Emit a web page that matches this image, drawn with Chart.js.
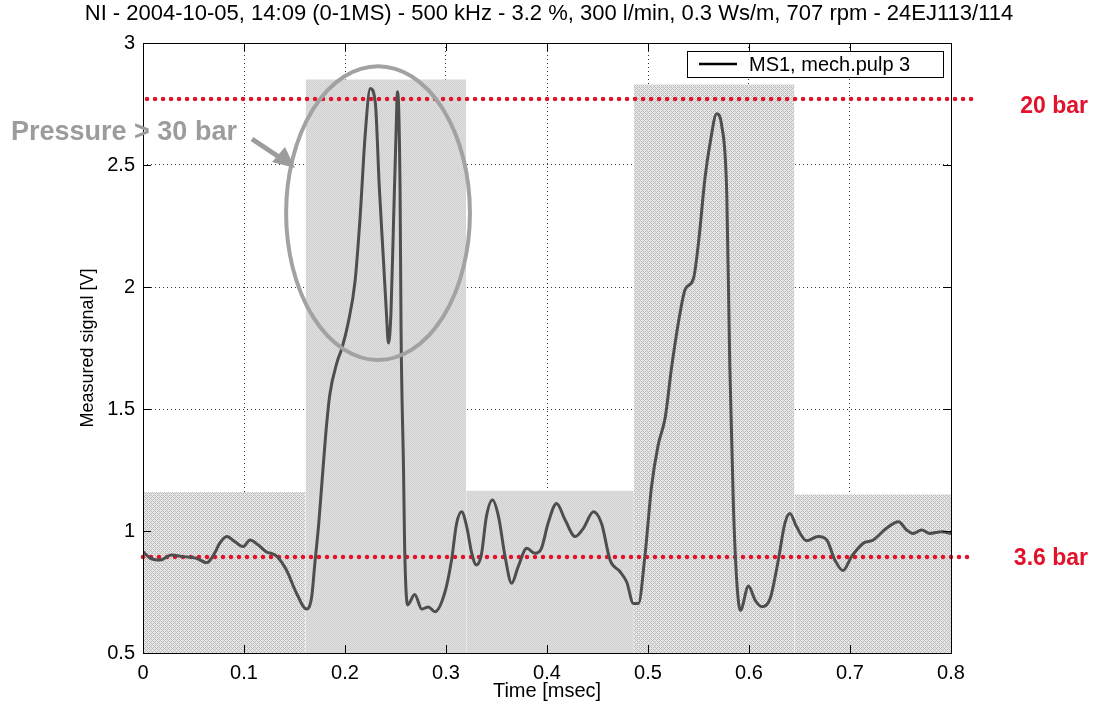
<!DOCTYPE html>
<html>
<head>
<meta charset="utf-8">
<script src="https://cdn.jsdelivr.net/npm/chart.js@4.4.0/dist/chart.umd.min.js"></script>
<style>
  html, body { margin: 0; padding: 0; background: #fff; }
  canvas { display: block; }
</style>
</head>
<body>
<canvas id="chartSignal" width="1098" height="708"></canvas>
<script>
// Sensor trace MS1 (time in msec, signal in V)
const timeMs = [
  0.000, 0.007, 0.017, 0.028, 0.040, 0.053, 0.063, 0.070, 0.076, 0.083,
  0.091, 0.099, 0.106, 0.114, 0.122, 0.132, 0.142, 0.152, 0.162, 0.167,
  0.170, 0.174, 0.177, 0.181, 0.185, 0.192, 0.197, 0.203, 0.210, 0.215,
  0.220, 0.225, 0.230, 0.234, 0.238, 0.241, 0.243, 0.2455, 0.248, 0.2505,
  0.252, 0.2545, 0.2555, 0.258, 0.259, 0.262, 0.269, 0.276, 0.2825, 0.289,
  0.299, 0.3055, 0.3105, 0.3155, 0.3205, 0.3255, 0.330, 0.335, 0.340, 0.346,
  0.352, 0.3585, 0.365, 0.3715, 0.380, 0.388, 0.3945, 0.401, 0.4095, 0.418,
  0.428, 0.436, 0.446, 0.454, 0.4625, 0.472, 0.479, 0.4855, 0.4905, 0.497,
  0.5035, 0.510, 0.517, 0.5235, 0.532, 0.537, 0.545, 0.550, 0.5565, 0.5615,
  0.568, 0.573, 0.578, 0.581, 0.5845, 0.588, 0.5915, 0.5995, 0.606, 0.6125,
  0.621, 0.629, 0.6355, 0.6405, 0.647, 0.657, 0.6685, 0.677, 0.685, 0.693,
  0.7015, 0.713, 0.723, 0.736, 0.748, 0.756, 0.7625, 0.771, 0.779, 0.791,
  0.800
];
const signalV = [
  0.915, 0.889, 0.881, 0.902, 0.895, 0.888, 0.870, 0.902, 0.950, 0.977,
  0.956, 0.936, 0.963, 0.943, 0.915, 0.898, 0.840, 0.745, 0.680, 0.730,
  0.860, 1.030, 1.190, 1.400, 1.560, 1.690, 1.750, 1.850, 2.025, 2.289,
  2.625, 2.814, 2.756, 2.406, 2.115, 1.894, 1.770, 1.893, 2.258, 2.625,
  2.800, 2.406, 1.822, 1.238, 0.945, 0.697, 0.740, 0.680, 0.689, 0.669,
  0.750, 0.881, 1.031, 1.079, 1.018, 0.909, 0.861, 0.902, 1.059, 1.127,
  1.059, 0.895, 0.786, 0.854, 0.929, 0.909, 0.929, 1.031, 1.113, 1.045,
  0.977, 1.011, 1.079, 1.031, 0.880, 0.835, 0.790, 0.703, 0.703, 0.900,
  1.182, 1.351, 1.464, 1.675, 1.900, 1.992, 2.034, 2.182, 2.449, 2.590,
  2.710, 2.661, 2.379, 1.675, 1.111, 0.787, 0.675, 0.775, 0.717, 0.690,
  0.724, 0.880, 1.031, 1.072, 1.018, 0.960, 0.977, 0.963, 0.881, 0.838,
  0.895, 0.950, 0.963, 1.011, 1.038, 1.004, 0.990, 1.004, 0.990, 0.997,
  0.990
];

// pressure zones behind the trace
const zoneStart = [0, 0.161, 0.32, 0.486, 0.645];
const zoneEnd = [0.161, 0.32, 0.486, 0.645, 0.8];
const zoneTop = [1.16, 2.85, 1.165, 2.83, 1.15];
const zoneHatched = [true, false, false, true, true];

// reference levels
const thresholdLevels = [2.77, 0.893];
const thresholdLabels = ['20 bar', '3.6 bar'];
const thresholdEnd = 0.824;

const xTicks = [0, 0.1, 0.2, 0.3, 0.4, 0.5, 0.6, 0.7, 0.8];
const yTicks = [0.5, 1, 1.5, 2, 2.5, 3];

const chartTitle = 'NI - 2004-10-05, 14:09 (0-1MS) - 500 kHz - 3.2 %, 300 l/min, 0.3 Ws/m, 707 rpm - 24EJ113/114';
const seriesLabel = 'MS1, mech.pulp 3';
const noteText = 'Pressure > 30 bar';

const FONT = "'Liberation Sans', Arial, Helvetica, sans-serif";
const RED = '#e3122b';

function makePattern(hatched) {
  const c = document.createElement('canvas');
  c.width = c.height = 4;
  const g = c.getContext('2d');
  if (hatched) {
    g.fillStyle = '#e6e6e6';
    g.fillRect(0, 0, 4, 4);
    g.fillStyle = '#bdbdbd';
    [[0, 0], [1, 1], [2, 2], [3, 3], [1, 3], [3, 1]].forEach(([x, y]) => g.fillRect(x, y, 1, 1));
  } else {
    g.fillStyle = '#dedede';
    g.fillRect(0, 0, 4, 4);
    g.fillStyle = '#d2d2d2';
    [[0, 0], [2, 0], [1, 1], [3, 1], [0, 2], [2, 2], [1, 3], [3, 3]].forEach(([x, y]) => g.fillRect(x, y, 1, 1));
  }
  return g.createPattern(c, 'repeat');
}

const zoneSets = zoneStart.map((s, i) => ({
  label: 'zone' + i,
  data: [{ x: s, y: zoneTop[i] }, { x: zoneEnd[i], y: zoneTop[i] }],
  borderWidth: 0,
  borderColor: 'rgba(0,0,0,0)',
  backgroundColor: makePattern(zoneHatched[i]),
  fill: 'start',
  pointRadius: 0,
  order: 10
}));

const thresholdSets = thresholdLevels.map((v, i) => ({
  label: thresholdLabels[i],
  data: [{ x: i === 0 ? 0.004 : 0, y: v }, { x: thresholdEnd - i * 0.007, y: v }],
  borderColor: RED,
  borderWidth: 4.5,
  borderDash: [0, 8],
  borderCapStyle: 'round',
  pointRadius: 0,
  fill: false,
  clip: false,
  order: 2
}));

const signalSet = {
  label: seriesLabel,
  data: timeMs.map((t, i) => ({ x: t, y: signalV[i] })),
  borderColor: '#4e4e4e',
  borderWidth: 3,
  pointRadius: 0,
  cubicInterpolationMode: 'monotone',
  fill: false,
  order: 0
};

// frame, inner ticks, ellipse note, level labels and legend box
const decorations = {
  id: 'decorations',
  afterDraw(chart) {
    const { ctx, chartArea: a, scales: { x, y } } = chart;
    ctx.save();

    // axes box with inward tick marks
    ctx.strokeStyle = '#000';
    ctx.lineWidth = 1;
    ctx.setLineDash([]);
    ctx.strokeRect(a.left + 0.5, a.top + 0.5, a.right - a.left, a.bottom - a.top);
    ctx.beginPath();
    xTicks.forEach(v => {
      const px = Math.round(x.getPixelForValue(v)) + 0.5;
      ctx.moveTo(px, a.bottom); ctx.lineTo(px, a.bottom - 8);
      ctx.moveTo(px, a.top); ctx.lineTo(px, a.top + 8);
    });
    yTicks.forEach(v => {
      const py = Math.round(y.getPixelForValue(v)) + 0.5;
      ctx.moveTo(a.left, py); ctx.lineTo(a.left + 8, py);
      ctx.moveTo(a.right, py); ctx.lineTo(a.right - 8, py);
    });
    ctx.stroke();

    // ellipse around the overpressure peaks
    const cx = x.getPixelForValue(0.2327), cy = y.getPixelForValue(2.303);
    const rx = x.getPixelForValue(0.2327 + 0.091) - cx;
    const ry = cy - y.getPixelForValue(2.303 + 0.602);
    ctx.strokeStyle = '#a2a2a2';
    ctx.lineWidth = 4;
    ctx.beginPath();
    ctx.ellipse(cx, cy, rx, ry, 0, 0, Math.PI * 2);
    ctx.stroke();

    // note text and arrow
    ctx.fillStyle = '#9c9c9c';
    ctx.font = 'bold 27px ' + FONT;
    ctx.textAlign = 'left';
    ctx.textBaseline = 'alphabetic';
    ctx.fillText(noteText, 11, 140);
    ctx.strokeStyle = '#9c9c9c';
    ctx.lineWidth = 5;
    ctx.beginPath();
    ctx.moveTo(252, 139);
    ctx.lineTo(282, 159);
    ctx.stroke();
    ctx.beginPath();
    ctx.moveTo(295, 168);
    ctx.lineTo(272, 162);
    ctx.lineTo(285, 147);
    ctx.closePath();
    ctx.fill();

    // level labels
    ctx.fillStyle = RED;
    ctx.font = 'bold 23px ' + FONT;
    ctx.textAlign = 'right';
    ctx.textBaseline = 'middle';
    thresholdLevels.forEach((v, i) => {
      ctx.fillText(thresholdLabels[i], a.right + 137, y.getPixelForValue(v) + (i === 0 ? 8 : 2));
    });

    // legend
    const lx = 687, ly = 51, lw = 256, lh = 26;
    ctx.fillStyle = '#fff';
    ctx.fillRect(lx, ly, lw, lh);
    ctx.strokeStyle = '#000';
    ctx.lineWidth = 1;
    ctx.strokeRect(lx + 0.5, ly + 0.5, lw, lh);
    ctx.lineWidth = 2.5;
    ctx.beginPath();
    ctx.moveTo(699, ly + 13);
    ctx.lineTo(737, ly + 13);
    ctx.stroke();
    ctx.fillStyle = '#000';
    ctx.font = '20px ' + FONT;
    ctx.textAlign = 'left';
    ctx.fillText(seriesLabel, 749, ly + 14);

    ctx.restore();
  }
};

new Chart(document.getElementById('chartSignal'), {
  type: 'line',
  data: { datasets: [signalSet, ...thresholdSets, ...zoneSets] },
  options: {
    responsive: false,
    animation: false,
    devicePixelRatio: 1,
    layout: { padding: 0 },
    plugins: {
      legend: { display: false },
      tooltip: { enabled: false },
      title: {
        display: true,
        text: chartTitle,
        color: '#000',
        font: { family: FONT, size: 22, weight: 'normal' },
        padding: { top: 1, bottom: 15.6 }
      }
    },
    scales: {
      x: {
        type: 'linear',
        min: 0,
        max: 0.8,
        z: 1,
        afterBuildTicks: s => { s.ticks = xTicks.map(v => ({ value: v })); },
        afterFit: s => { s.height = 55; },
        ticks: { color: '#000', padding: 8, font: { family: FONT, size: 20 }, callback: v => String(v), maxRotation: 0 },
        grid: { color: 'rgba(0,0,0,0.8)', lineWidth: 1, drawTicks: false },
        border: { display: false, dash: [1, 3] },
        title: { display: true, text: 'Time [msec]', color: '#000', font: { family: FONT, size: 20 }, padding: { top: 0, bottom: 5 } }
      },
      y: {
        type: 'linear',
        min: 0.5,
        max: 3,
        z: 1,
        afterBuildTicks: s => { s.ticks = yTicks.map(v => ({ value: v })); },
        afterFit: s => { s.width = 143; },
        ticks: { color: '#000', padding: 8, font: { family: FONT, size: 20 }, callback: v => String(v) },
        grid: { color: 'rgba(0,0,0,0.8)', lineWidth: 1, drawTicks: false },
        border: { display: false, dash: [1, 3] },
        title: { display: true, text: 'Measured signal [V]', color: '#000', font: { family: FONT, size: 18 }, padding: { top: 77, bottom: 0 } }
      },
      yRight: {
        type: 'linear',
        position: 'right',
        min: 0,
        max: 1,
        afterFit: s => { s.width = 147; },
        ticks: { display: false },
        grid: { display: false, drawTicks: false },
        border: { display: false }
      }
    }
  },
  plugins: [decorations]
});
</script>
</body>
</html>
